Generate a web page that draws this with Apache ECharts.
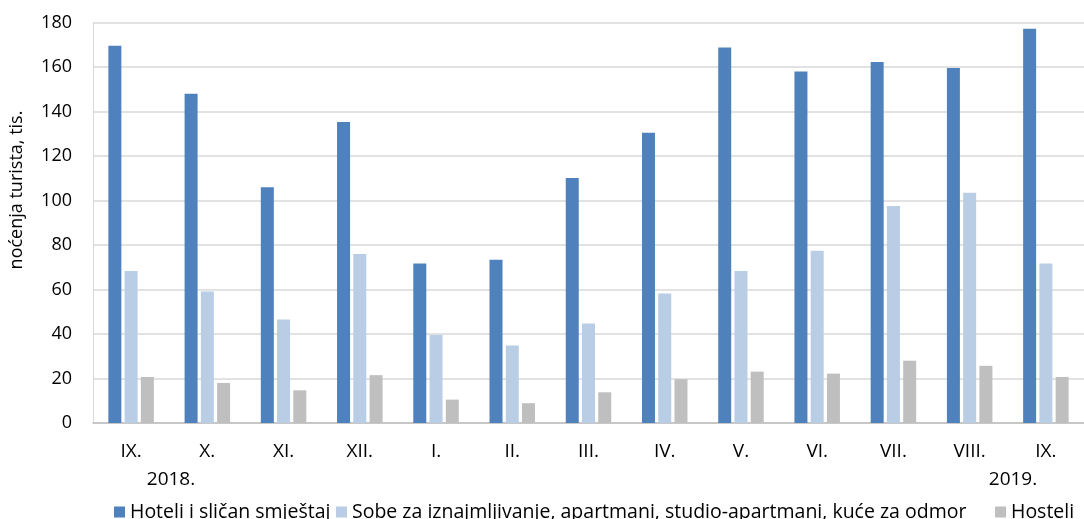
<!DOCTYPE html>
<html><head><meta charset="utf-8">
<script src="https://cdn.jsdelivr.net/npm/echarts@6/dist/echarts.min.js"></script>
<style>html,body{margin:0;padding:0;background:#fff}#c{width:1084px;height:519px}</style>
</head><body><div id="c"></div>
<script>
const categories = ['IX.','X.','XI.','XII.','I.','II.','III.','IV.','V.','VI.','VII.','VIII.','IX.'];
const hoteli = [169.5,148,106,135.3,71.7,73.4,110.1,130.4,168.8,158,162.2,159.6,177.2];
const sobe = [68.3,59.1,46.5,75.9,39.6,34.8,44.7,58.2,68.3,77.4,97.5,103.5,71.7];
const hosteli = [20.7,18,14.7,21.5,10.5,8.9,13.8,19.7,23.1,22.2,28,25.7,20.7];
const seriesNames = ['Hoteli i sličan smještaj','Sobe za iznajmljivanje, apartmani, studio-apartmani, kuće za odmor','Hosteli'];
const yTicks = {min:0,max:180,interval:20};
const yTitle = 'noćenja turista, tis.';
const years = ['2018.','2019.'];

const FONT = 'Open Sans';
const legendLefts = [109,331,990];
const chart = echarts.init(document.getElementById('c'));
chart.setOption({
  animation:false,
  textStyle:{fontFamily:FONT},
  grid:{left:93,top:22.5,bottom:96,width:994,containLabel:false},
  legend:seriesNames.map((n,i)=>({
    data:[n],left:legendLefts[i],top:497,itemWidth:11,itemHeight:11,itemGap:0,icon:'rect',
    textStyle:{fontFamily:FONT,fontSize:19.5,color:'#000'}
  })),
  xAxis:{
    type:'category',data:categories,
    axisLine:{show:true,lineStyle:{color:'#bfbfbf',width:1.5}},
    axisTick:{show:false},
    axisLabel:{color:'#000',fontSize:19,margin:19,fontFamily:FONT}
  },
  yAxis:{
    type:'value',min:yTicks.min,max:yTicks.max,interval:yTicks.interval,
    axisLine:{show:true,lineStyle:{color:'#d9d9d9'}},
    axisTick:{show:false},
    splitLine:{lineStyle:{color:'#d9d9d9',width:1.5}},
    axisLabel:{color:'#000',fontSize:18,margin:21,fontFamily:FONT}
  },
  graphic:[
    {type:'text',x:17,y:190,rotation:Math.PI/2,style:{text:yTitle,fill:'#000',font:'18px "'+FONT+'"',align:'center',verticalAlign:'middle'}},
    {type:'text',x:171,y:480,style:{text:years[0],fill:'#000',font:'19px "'+FONT+'"',align:'center',verticalAlign:'middle'}},
    {type:'text',x:1013,y:480,style:{text:years[1],fill:'#000',font:'19px "'+FONT+'"',align:'center',verticalAlign:'middle'}}
  ],
  series:[
    {name:seriesNames[0],type:'bar',data:hoteli,barWidth:13,barGap:'25%',itemStyle:{color:'#4f81bd'}},
    {name:seriesNames[1],type:'bar',data:sobe,barWidth:13,barGap:'25%',itemStyle:{color:'#b9cde5'}},
    {name:seriesNames[2],type:'bar',data:hosteli,barWidth:13,barGap:'25%',itemStyle:{color:'#bfbfbf'}}
  ]
});
</script></body></html>
